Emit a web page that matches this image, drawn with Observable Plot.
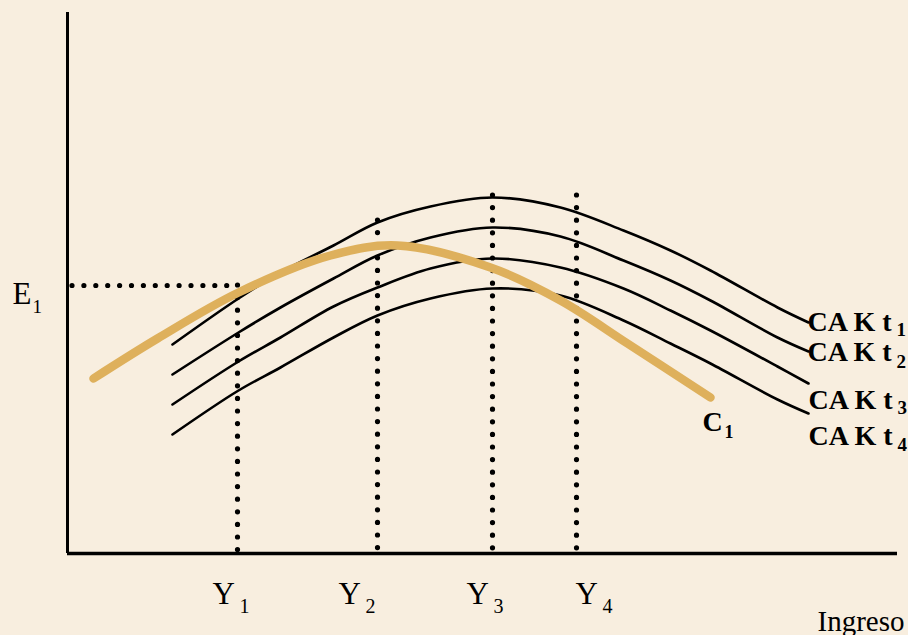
<!DOCTYPE html>
<html>
<head>
<meta charset="utf-8">
<script src="https://cdn.jsdelivr.net/npm/d3@7"></script>
<script src="https://cdn.jsdelivr.net/npm/@observablehq/plot@0.6"></script>
<style>
html, body { margin: 0; padding: 0; background: #F8EEDF; }
#chart svg { display: block; }
</style>
</head>
<body>
<div id="chart"></div>
<script>
// Income axis positions shared by the four CA K curves
const cakX = [105, 171, 213, 266, 310, 363, 425, 493, 556, 603, 643, 710, 741];
const cakT1 = [209, 255, 281, 308, 331, 347, 356, 346, 323, 303, 283, 246, 231];
const cakT2 = [179, 221, 246, 275, 298, 316, 326, 317, 293, 273, 253, 216, 202];
const cakT3 = [149, 192, 216, 247, 266, 285, 295, 286, 265, 243, 223, 187, 170];
const cakT4 = [119, 163, 186, 216, 238, 255, 265, 258, 233, 210, 190, 154, 140];

// C1 curve
const c1X = [26, 90, 171, 263, 330, 423, 493, 560, 643];
const c1Y = [175, 215, 261, 298, 308, 286, 253, 210, 156];

// Income levels Y1..Y4 and heights reached by the dotted guides
const incomeLevels = [170, 310, 425, 509];
const incomeTops = [268, 333, 358, 358];
const incomeNames = ["Y", "Y", "Y", "Y"];
const incomeSubs = ["1", "2", "3", "4"];

// E1 level
const e1Level = 268;

// Curve labels
const cakNames = ["CA K t", "CA K t", "CA K t", "CA K t"];
const cakSubs = ["1", "2", "3", "4"];
const cakLabelY = [223, 193, 145, 109];

const series = [cakT1, cakT2, cakT3, cakT4];
const cakRows = series.flatMap((ys, k) => ys.map((y, i) => ({x: cakX[i], y, s: "t" + (k + 1)})));
const c1Rows = c1X.map((x, i) => ({x, y: c1Y[i]}));
const guides = incomeLevels.map((x, i) => ({x, top: incomeTops[i]}));

const serif = "'Liberation Serif', 'Times New Roman', serif";

const chart = Plot.plot({
  width: 908,
  height: 635,
  marginLeft: 67,
  marginRight: 11,
  marginTop: 12,
  marginBottom: 82,
  x: {domain: [0, 830], axis: null},
  y: {domain: [0, 541], axis: null},
  style: {background: "#F8EEDF", overflow: "visible"},
  marks: [
    // dotted guides
    Plot.ruleX(guides, {x: "x", y1: "top", y2: 0, stroke: "black", strokeWidth: 5.2,
      strokeDasharray: "0 12.6", strokeLinecap: "round"}),
    Plot.ruleY([e1Level], {x1: 5, x2: 171, stroke: "black", strokeWidth: 5.2,
      strokeDasharray: "0 11.9", strokeLinecap: "round"}),
    // CA K curves
    Plot.line(cakRows, {x: "x", y: "y", z: "s", stroke: "black", strokeWidth: 2.6, curve: "catmull-rom"}),
    // C1 curve
    Plot.line(c1Rows, {x: "x", y: "y", stroke: "#DEB05C", strokeWidth: 8.5, curve: "catmull-rom"}),
    // axes
    Plot.ruleX([0], {y1: 0, y2: 541, stroke: "black", strokeWidth: 3}),
    Plot.ruleY([0], {x1: 0, x2: 830, stroke: "black", strokeWidth: 3.3}),
    // Y labels
    Plot.text(incomeNames, {x: [145, 271, 399, 508], y: [-50, -50, -50, -50], text: d => d,
      textAnchor: "start", lineAnchor: "bottom", fontFamily: serif, fontSize: 31, fill: "black"}),
    Plot.text(incomeSubs, {x: [172, 298, 426, 535], y: [-59, -59, -59, -59], text: d => d,
      textAnchor: "start", lineAnchor: "bottom", fontFamily: serif, fontSize: 20, fill: "black"}),
    // E1
    Plot.text(["E"], {x: [-55], y: [250], text: d => d, textAnchor: "start", lineAnchor: "bottom",
      fontFamily: serif, fontSize: 31, fill: "black"}),
    Plot.text(["1"], {x: [-35], y: [241], text: d => d, textAnchor: "start", lineAnchor: "bottom",
      fontFamily: serif, fontSize: 19, fill: "black"}),
    // Ingreso
    Plot.text(["Ingreso"], {x: [750], y: [-77], text: d => d, textAnchor: "start", lineAnchor: "bottom",
      fontFamily: serif, fontSize: 29, fill: "black"}),
    // CA K labels
    Plot.text(cakNames, {x: [740, 740, 741, 741], y: cakLabelY, text: d => d, textAnchor: "start",
      lineAnchor: "bottom", fontFamily: serif, fontSize: 28, fontWeight: "bold", fill: "black"}),
    Plot.text(cakSubs, {x: [829, 829, 830, 830], y: [218, 186, 140, 103], text: d => d, textAnchor: "start",
      lineAnchor: "bottom", fontFamily: serif, fontSize: 19, fontWeight: "bold", fill: "black"}),
    // C1 label
    Plot.text(["C"], {x: [635], y: [123], text: d => d, textAnchor: "start", lineAnchor: "bottom",
      fontFamily: serif, fontSize: 28, fontWeight: "bold", fill: "black"}),
    Plot.text(["1"], {x: [657], y: [116], text: d => d, textAnchor: "start", lineAnchor: "bottom",
      fontFamily: serif, fontSize: 18, fontWeight: "bold", fill: "black"})
  ]
});
document.getElementById("chart").append(chart);
</script>
</body>
</html>
